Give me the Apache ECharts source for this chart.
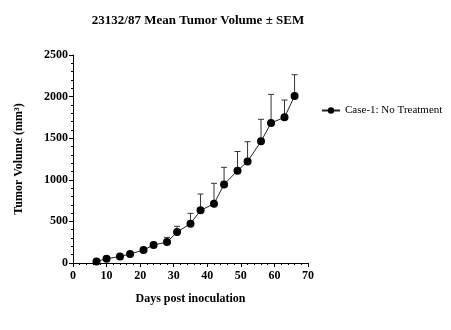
<!DOCTYPE html>
<html>
<head>
<meta charset="utf-8">
<script src="https://cdn.jsdelivr.net/npm/echarts@6/dist/echarts.min.js"></script>
<style>
  html, body { margin: 0; padding: 0; background: #fff; }
  #chart { width: 451px; height: 330px; }
</style>
</head>
<body>
<div id="chart"></div>
<script>
// Days after inoculation at which tumours were measured
const days = [7, 10, 14, 17, 21, 24, 28, 31, 35, 38, 42, 45, 49, 52, 56, 59, 63, 66];
// Mean tumour volume (mm³) per measurement day
const meanVolume = [18, 52, 78, 108, 156, 216, 252, 372, 473, 633, 713, 945, 1110, 1220, 1462, 1683, 1751, 2007];
// Standard error of the mean (mm³), drawn as upper error bars
const semVolume = [6, 8, 10, 12, 18, 33, 56, 69, 124, 196, 245, 205, 230, 238, 265, 344, 208, 256];
const seriesName = 'Case-1: No Treatment';

const serif = '"Liberation Serif", "Times New Roman", serif';

const lineData = days.map((d, i) => [d, meanVolume[i]]);
const errData = days.map((d, i) => [d, meanVolume[i], meanVolume[i] + semVolume[i]]);

const chart = echarts.init(document.getElementById('chart'), null, { renderer: 'canvas' });

chart.setOption({
  animation: false,
  backgroundColor: '#fff',
  title: {
    text: '23132/87 Mean Tumor Volume ± SEM',
    left: 193,
    top: 9,
    textAlign: 'center',
    textStyle: { fontFamily: serif, fontWeight: 'bold', fontSize: 13, color: '#000' }
  },
  legend: {
    left: 316,
    top: 100,
    itemWidth: 18,
    itemHeight: 8,
    itemGap: 6,
    data: [seriesName],
    textStyle: { fontFamily: serif, fontSize: 11, color: '#000' }
  },
  grid: { left: 73, right: 143, top: 55, bottom: 67 },
  xAxis: {
    type: 'value',
    min: 0, max: 70, interval: 10,
    name: 'Days post inoculation',
    nameLocation: 'middle',
    nameGap: 30,
    nameTextStyle: { fontFamily: serif, fontWeight: 'bold', fontSize: 12, color: '#000' },
    axisLine: { lineStyle: { color: '#000', width: 1 } },
    axisTick: { show: true, inside: false, length: 4, lineStyle: { color: '#000' } },
    minorTick: { show: true, splitNumber: 5, length: 2, lineStyle: { color: '#000' } },
    axisLabel: { fontFamily: serif, fontWeight: 'bold', fontSize: 12, color: '#000', margin: 7 },
    splitLine: { show: false }
  },
  yAxis: {
    type: 'value',
    min: 0, max: 2500, interval: 500,
    name: 'Tumor Volume (mm³)',
    nameLocation: 'middle',
    nameGap: 48,
    nameTextStyle: { fontFamily: serif, fontWeight: 'bold', fontSize: 12, color: '#000' },
    axisLine: { show: true, lineStyle: { color: '#000', width: 1 } },
    axisTick: { show: true, inside: false, length: 4, lineStyle: { color: '#000' } },
    minorTick: { show: true, splitNumber: 5, length: 2, lineStyle: { color: '#000' } },
    axisLabel: {
      fontFamily: serif, fontWeight: 'bold', fontSize: 12, color: '#000', margin: 5,
      formatter: (v) => String(v)
    },
    splitLine: { show: false }
  },
  series: [
    {
      name: seriesName + ' SEM',
      type: 'custom',
      silent: true,
      z: 1,
      data: errData,
      renderItem: function (params, api) {
        const x = api.value(0);
        const base = api.coord([x, api.value(1)]);
        const top = api.coord([x, api.value(2)]);
        const half = 3;
        const style = { stroke: '#333', lineWidth: 1 };
        return {
          type: 'group',
          children: [
            { type: 'line', shape: { x1: base[0], y1: base[1], x2: top[0], y2: top[1] }, style: style },
            { type: 'line', shape: { x1: top[0] - half, y1: top[1], x2: top[0] + half, y2: top[1] }, style: style }
          ]
        };
      },
      encode: { x: 0, y: [1, 2] }
    },
    {
      name: seriesName,
      type: 'line',
      z: 3,
      data: lineData,
      symbol: 'circle',
      symbolSize: 8,
      itemStyle: { color: '#000' },
      lineStyle: { color: '#222', width: 1 }
    }
  ]
});
</script>
</body>
</html>
